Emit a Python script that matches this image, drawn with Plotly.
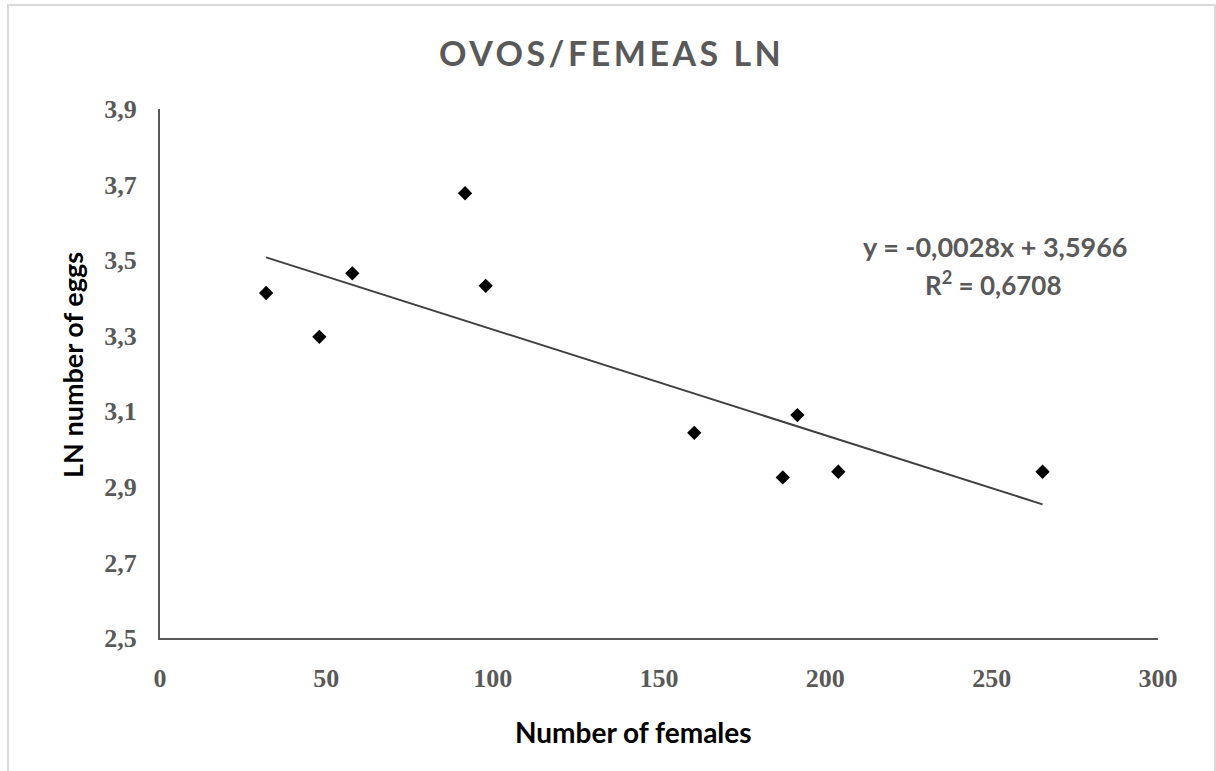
import plotly.graph_objects as go

# Observations: number of females vs. LN of the number of eggs
females = [31.9, 47.9, 57.8, 91.7, 97.9, 160.6, 187.2, 191.6, 203.9, 265.3]
ln_eggs = [3.413, 3.297, 3.465, 3.677, 3.432, 3.043, 2.925, 3.090, 2.940, 2.940]

# Linear trend line parameters and goodness of fit
slope = -0.0028
intercept = 3.5966
r_squared = 0.6708

x_ticks = [0, 50, 100, 150, 200, 250, 300]
y_ticks = [2.5, 2.7, 2.9, 3.1, 3.3, 3.5, 3.7, 3.9]

title_text = "OVOS/FEMEAS LN"
x_title = "Number of females"
y_title = "LN number of eggs"

GREY = "#595959"
SANS = "Lato, Carlito, Calibri, sans-serif"
SERIF = "Liberation Serif, Times New Roman, serif"

trend_x = [min(females), max(females)]
trend_y = [slope * v + intercept for v in trend_x]


def pt(v, digits):
    return f"{v:.{digits}f}".replace(".", ",")


fig = go.Figure()

fig.add_trace(go.Scatter(
    x=trend_x, y=trend_y, mode="lines",
    line=dict(color="#404040", width=2),
    hoverinfo="skip", showlegend=False,
))

fig.add_trace(go.Scatter(
    x=females, y=ln_eggs, mode="markers",
    marker=dict(symbol="diamond", size=11, color="black"),
    showlegend=False,
))

axis_common = dict(
    showgrid=False, zeroline=False, showline=True,
    linecolor=GREY, linewidth=2, ticks="", ticklabelstandoff=16,
    tickfont=dict(family=SERIF, size=26, color=GREY, weight="bold"),
)

fig.update_xaxes(range=[0, 300], tickvals=x_ticks,
                 ticktext=[str(v) for v in x_ticks], **axis_common)
fig.update_yaxes(range=[2.5, 3.9], tickvals=y_ticks,
                 ticktext=[pt(v, 1) for v in y_ticks], **axis_common)

annotations = [
    dict(text=f"<span style='letter-spacing:3.5px'><b>{title_text}</b></span>",
         x=0.452, y=1.106,
         font=dict(family=SANS, size=34, color=GREY)),
    dict(text=f"<b>{x_title}</b>", x=0.4744, y=-0.178,
         font=dict(family=SANS, size=28, color="black")),
    dict(text=f"<b>{y_title}</b>", x=-0.0883, y=0.516, textangle=-90,
         font=dict(family=SANS, size=27, color="black")),
    dict(text=f"<b>y = {pt(slope, 4)}x + {pt(intercept, 4)}</b>",
         x=(995 - 160) / 998, y=(638 - 246) / 529,
         font=dict(family=SANS, size=27, color=GREY)),
    dict(text=f"<b>R<sup>2</sup> = {pt(r_squared, 4)}</b>",
         x=(993 - 160) / 998, y=(638 - 283) / 529,
         font=dict(family=SANS, size=26, color=GREY)),
]
for a in annotations:
    a.update(xref="paper", yref="paper", showarrow=False,
             xanchor="center", yanchor="middle")

fig.update_layout(
    width=1216, height=771,
    margin=dict(l=160, r=58, t=109, b=133),
    plot_bgcolor="white", paper_bgcolor="white",
    annotations=annotations,
    shapes=[dict(type="rect", xref="paper", yref="paper",
                 x0=(8 - 160) / 998, x1=(1215 - 160) / 998,
                 y0=(638 - 790) / 529, y1=(638 - 5) / 529,
                 line=dict(color="#d9d9d9", width=2), layer="below")],
)

fig.write_html("out.html")
